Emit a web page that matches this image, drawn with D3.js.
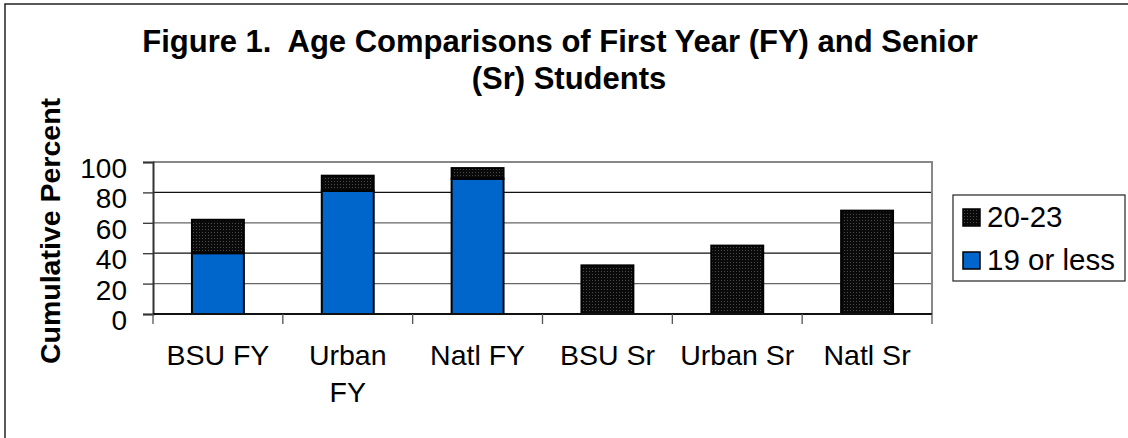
<!DOCTYPE html>
<html>
<head>
<meta charset="utf-8">
<script src="https://cdn.jsdelivr.net/npm/d3@7"></script>
<style>
  body { margin: 0; background: white; }
  text { font-family: "Liberation Sans", Arial, sans-serif; fill: #000; }
</style>
</head>
<body>
<script>
var g_width = 1128
var g_height = 438
var plot = { left: 153, right: 932, top: 162, bottom: 314 }

// chart data
var categories = ["BSU FY", "Urban FY", "Natl FY", "BSU Sr", "Urban Sr", "Natl Sr"]
var lessThan19 = [40, 81, 89, 0, 0, 0]     // 19 or less
var from20to23 = [22, 10, 7, 32, 45, 68]   // 20-23, stacked on top
var seriesNames = ["19 or less", "20-23"]
var yTicks = [0, 20, 40, 60, 80, 100]

var rows = categories.map(function (c, i) {
    return { cat: c, "19 or less": lessThan19[i], "20-23": from20to23[i] }
})

var svg = d3.select("body").append("svg")
    .attr("width", g_width)
    .attr("height", g_height)

// dotted dark fill like the original
var defs = svg.append("defs")
var pat = defs.append("pattern")
    .attr("id", "dots")
    .attr("width", 3).attr("height", 3)
    .attr("patternUnits", "userSpaceOnUse")
pat.append("rect").attr("width", 3).attr("height", 3).attr("fill", "#0a0a0a")
pat.append("rect").attr("x", 1).attr("y", 1).attr("width", 1).attr("height", 1).attr("fill", "#4a4a4a")

var colors = { "19 or less": "#0066cc", "20-23": "url(#dots)" }

// outer frame (only top/left visible in the original)
svg.append("rect")
    .attr("x", 5).attr("y", 4)
    .attr("width", g_width + 10).attr("height", g_height + 10)
    .attr("fill", "none").attr("stroke", "#222").attr("stroke-width", 1.5)

var xScale = d3.scaleBand().domain(categories).range([plot.left, plot.right]).paddingInner(0.6).paddingOuter(0.3)
var xEdge = d3.scaleLinear().domain([0, categories.length]).range([plot.left, plot.right])
var yScale = d3.scaleLinear().domain([0, 100]).range([plot.bottom, plot.top])

// gridlines
svg.append("g").selectAll("line")
    .data(yTicks.filter(function (d) { return d > 0 && d < 100 }))
    .enter().append("line")
    .attr("x1", plot.left).attr("x2", plot.right)
    .attr("y1", function (d) { return yScale(d) }).attr("y2", function (d) { return yScale(d) })
    .attr("stroke", function (d, i) { return i % 2 ? "#111" : "#666" })
    .attr("stroke-width", 1.3)

// plot border top/right
svg.append("path")
    .attr("d", "M" + plot.left + "," + plot.top + "H" + plot.right + "V" + plot.bottom)
    .attr("fill", "none").attr("stroke", "#888").attr("stroke-width", 2)

// bars
var stack = d3.stack().keys(seriesNames)(rows)
svg.append("g").selectAll("g")
    .data(stack)
    .enter().append("g")
    .attr("fill", function (d) { return colors[d.key] })
    .selectAll("rect")
    .data(function (d) { return d.filter(function (p) { return p[1] > p[0] }) })
    .enter().append("rect")
    .attr("x", function (d) { return xScale(d.data.cat) })
    .attr("y", function (d) { return yScale(d[1]) })
    .attr("width", xScale.bandwidth())
    .attr("height", function (d) { return yScale(d[0]) - yScale(d[1]) })
    .attr("stroke", "#000").attr("stroke-width", 2)

// y axis
var yAxis = d3.axisLeft(yScale).tickValues(yTicks).tickSize(10).tickPadding(16).tickFormat(d3.format("d"))
var yAxisPlot = svg.append("g")
    .attr("transform", "translate(" + plot.left + ",0)")
    .call(yAxis)
yAxisPlot.select(".domain").attr("stroke", "#333").attr("stroke-width", 2)
yAxisPlot.selectAll(".tick line").attr("stroke", "#333").attr("stroke-width", 1.3)
yAxisPlot.selectAll("text")
    .style("font-size", "28px")
    .attr("dy", "0.55em")

// x axis: ticks at band edges
svg.append("line")
    .attr("x1", plot.left).attr("x2", plot.right)
    .attr("y1", plot.bottom).attr("y2", plot.bottom)
    .attr("stroke", "#111").attr("stroke-width", 2)
svg.append("g").selectAll("line")
    .data(d3.range(categories.length + 1))
    .enter().append("line")
    .attr("x1", function (d) { return xEdge(d) }).attr("x2", function (d) { return xEdge(d) })
    .attr("y1", plot.bottom).attr("y2", plot.bottom + 10)
    .attr("stroke", "#555").attr("stroke-width", 1.3)

var xLabels = svg.append("g").selectAll("text")
    .data(categories)
    .enter().append("text")
    .attr("x", function (d) { return xScale(d) + xScale.bandwidth() / 2 })
    .attr("y", 365)
    .attr("text-anchor", "middle")
    .style("font-size", "28.5px")
    .text(function (d) { return d })

// wrap long labels like Excel does
xLabels.each(function (d) {
    var t = d3.select(this)
    if (this.getComputedTextLength() > 118) {
        var words = d.split(" ")
        var x = t.attr("x")
        t.text(null)
        t.append("tspan").attr("x", x).text(words.slice(0, -1).join(" "))
        t.append("tspan").attr("x", x).attr("dy", 37).text(words[words.length - 1])
    }
})

// y title
svg.append("text")
    .attr("transform", "translate(60,231) rotate(-90)")
    .attr("text-anchor", "middle")
    .style("font-size", "28.5px").style("font-weight", "bold")
    .text("Cumulative Percent")

// title
var title = svg.append("text")
    .attr("text-anchor", "middle")
    .style("font-size", "31px").style("font-weight", "bold")
title.append("tspan").attr("x", 560).attr("y", 52).text("Figure 1.\u00a0 Age Comparisons of First Year (FY) and Senior")
title.append("tspan").attr("x", 569).attr("y", 89).text("(Sr) Students")

// legend
var legend = svg.append("g")
legend.append("rect")
    .attr("x", 953).attr("y", 195).attr("width", 172).attr("height", 86)
    .attr("fill", "white").attr("stroke", "#333").attr("stroke-width", 1.3)
var legendItems = ["20-23", "19 or less"]
var li = legend.selectAll("g.item")
    .data(legendItems)
    .enter().append("g")
    .attr("class", "item")
    .attr("transform", function (d, i) { return "translate(963," + (209 + i * 43) + ")" })
li.append("rect")
    .attr("width", 17).attr("height", 17)
    .attr("fill", function (d) { return colors[d] })
    .attr("stroke", "#000").attr("stroke-width", 1.5)
li.append("text")
    .attr("x", 24).attr("y", 18)
    .style("font-size", "29.5px")
    .text(function (d) { return d })
</script>
</body>
</html>
